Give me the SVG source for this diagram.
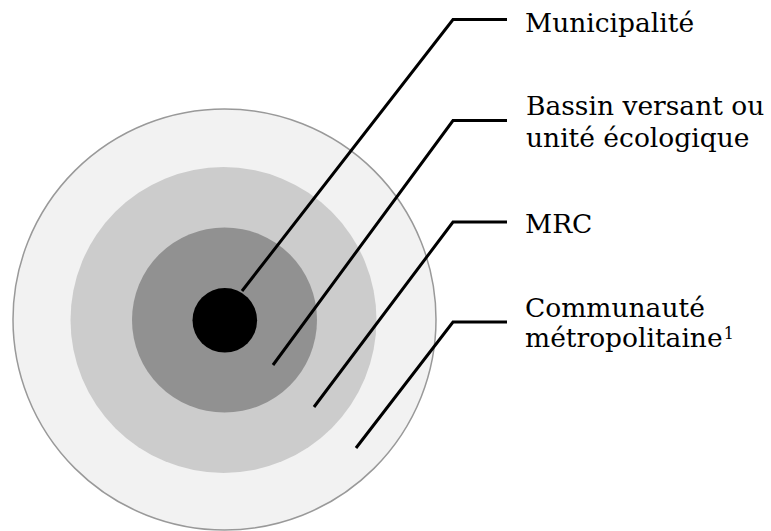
<svg xmlns="http://www.w3.org/2000/svg" width="771" height="531" viewBox="0 0 771 531">
<style>
.lbl{font-family:"DejaVu Serif","Liberation Serif",serif;font-size:26.5px;fill:#000}
.sup{font-family:"DejaVu Serif","Liberation Serif",serif;font-size:16px;fill:#000}
.conn{fill:none;stroke:#000;stroke-width:3;stroke-linejoin:miter;stroke-linecap:butt}
</style>
<rect width="771" height="531" fill="#fff"/>
<g id="communaute">
<ellipse cx="224.5" cy="319.5" rx="211.5" ry="210.5" fill="#f2f2f2" stroke="#999" stroke-width="1.5"/>
</g>
<g id="mrc">
<circle cx="223.5" cy="320" r="153" fill="#cccccc"/>
</g>
<g id="bassin">
<circle cx="224.5" cy="320" r="92.5" fill="#919191"/>
</g>
<g id="municipalite">
<circle cx="224.8" cy="320.3" r="32.3" fill="#000"/>
</g>
<g id="connectors">
<polyline class="conn" points="242,291 453,19.5 507,19.5"/>
<polyline class="conn" points="273,365 453,120.5 507,120.5"/>
<polyline class="conn" points="314,407 453,222 507,222"/>
<polyline class="conn" points="356,448 453,322 507,322"/>
</g>
<g id="labels">
<text class="lbl" x="525" y="32">Municipalité</text>
<text class="lbl" x="526" y="115">Bassin versant ou</text>
<text class="lbl" x="526" y="147">unité écologique</text>
<text class="lbl" x="525" y="233">MRC</text>
<text class="lbl" x="525" y="316.5">Communauté</text>
<text class="lbl" x="525" y="347">métropolitaine<tspan class="sup" dx="1" dy="-8">1</tspan></text>
</g>
</svg>
